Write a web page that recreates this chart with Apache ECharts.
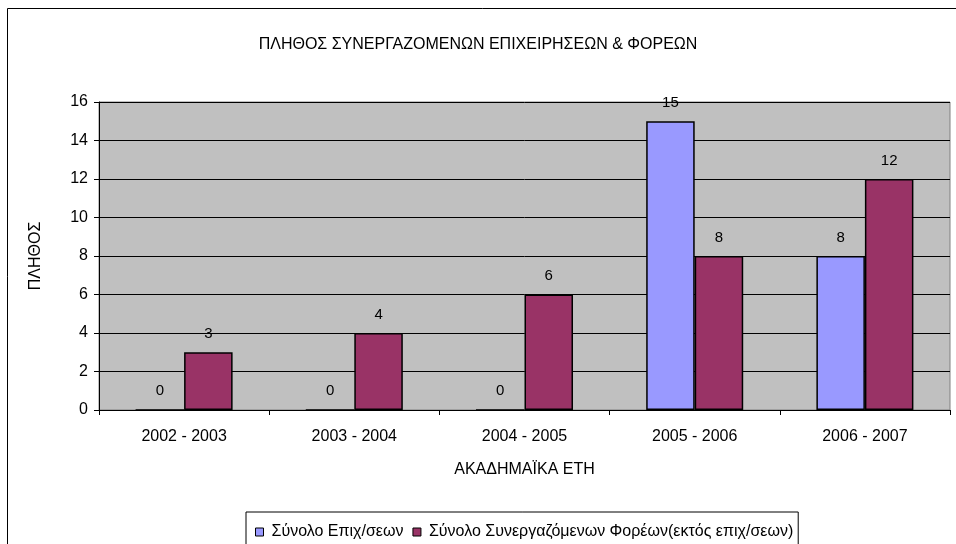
<!DOCTYPE html>
<html>
<head>
<meta charset="utf-8">
<script src="https://cdn.jsdelivr.net/npm/echarts@6/dist/echarts.min.js"></script>
<style>
  html, body { margin: 0; padding: 0; background: #fff; }
  #chart { width: 956px; height: 544px; }
</style>
</head>
<body>
<div id="chart"></div>
<script>
const years = ['2002 - 2003', '2003 - 2004', '2004 - 2005', '2005 - 2006', '2006 - 2007']
const firms = [0, 0, 0, 15, 8]          // Σύνολο Επιχ/σεων
const partners = [3, 4, 6, 8, 12]       // Σύνολο Συνεργαζόμενων Φορέων
const seriesNames = ['Σύνολο Επιχ/σεων', 'Σύνολο Συνεργαζόμενων Φορέων(εκτός επιχ/σεων)']

const font = 'Liberation Sans, Arial, sans-serif'
const chart = echarts.init(document.getElementById('chart'))

const barLabel = { show: true, position: 'top', distance: 11, color: '#000', fontSize: 15, fontFamily: font }

chart.setOption({
  animation: false,
  textStyle: { fontFamily: font },
  title: {
    text: 'ΠΛΗΘΟΣ ΣΥΝΕΡΓΑΖΟΜΕΝΩΝ ΕΠΙΧΕΙΡΗΣΕΩΝ & ΦΟΡΕΩΝ',
    left: 'center', top: 32,
    textStyle: { fontSize: 16, fontWeight: 'normal', color: '#000', fontFamily: font }
  },
  graphic: [{
    type: 'rect', z: -1, silent: true,
    shape: { x: 7.5, y: 8.5, width: 960, height: 550 },
    style: { fill: 'none', stroke: '#000', lineWidth: 1 }
  }],
  legend: {
    left: 246, top: 512,
    data: seriesNames,
    itemWidth: 8, itemHeight: 8, itemGap: 9,
    icon: 'rect',
    borderColor: '#000', borderWidth: 1,
    padding: [12, 5, 20, 9],
    textStyle: { fontSize: 16, color: '#000', fontFamily: font, padding: [0, 0, 0, 3] },
    itemStyle: { borderColor: '#000', borderWidth: 1 }
  },
  grid: {
    left: 99, right: 6, top: 102, bottom: 134,
    show: true, backgroundColor: '#C0C0C0', borderColor: '#808080', borderWidth: 1
  },
  xAxis: {
    type: 'category',
    data: years,
    name: 'ΑΚΑΔΗΜΑΪΚΑ ΕΤΗ',
    nameLocation: 'middle',
    nameGap: 52,
    nameTextStyle: { fontSize: 16, color: '#000' },
    axisLine: { lineStyle: { color: '#000' } },
    axisTick: { show: true, length: 5, lineStyle: { color: '#000' } },
    axisLabel: { color: '#000', fontSize: 16, margin: 19 }
  },
  yAxis: {
    type: 'value',
    min: 0, max: 16, interval: 2,
    name: 'ΠΛΗΘΟΣ',
    nameLocation: 'middle',
    nameRotate: 90,
    nameGap: 55,
    nameTextStyle: { fontSize: 16, color: '#000' },
    axisLine: { show: true, lineStyle: { color: '#000' } },
    axisTick: { show: true, length: 5, lineStyle: { color: '#000' } },
    axisLabel: { color: '#000', fontSize: 16, margin: 11 },
    splitLine: { show: true, lineStyle: { color: '#000', width: 1 } }
  },
  series: [
    {
      name: seriesNames[0], type: 'bar', data: firms,
      barGap: '0%', barCategoryGap: '43%',
      itemStyle: { color: '#9999FF', borderColor: '#000', borderWidth: 1.5 },
      label: barLabel
    },
    {
      name: seriesNames[1], type: 'bar', data: partners,
      itemStyle: { color: '#993366', borderColor: '#000', borderWidth: 1.5 },
      label: barLabel
    }
  ]
})
</script>
</body>
</html>
